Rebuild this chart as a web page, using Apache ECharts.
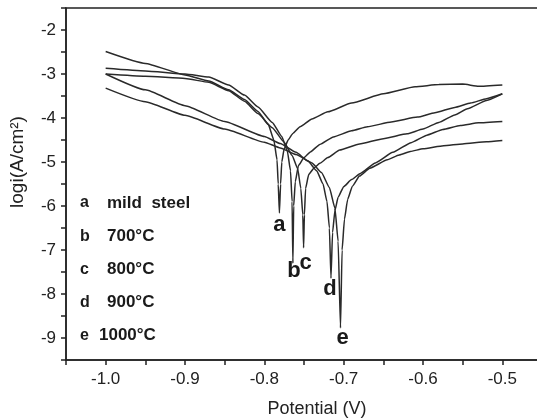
<!DOCTYPE html>
<html>
<head>
<meta charset="utf-8">
<script src="https://cdn.jsdelivr.net/npm/echarts@6/dist/echarts.min.js"></script>
<style>
  html, body { margin: 0; background: #fff; }
  #chart { width: 537px; height: 420px; }
</style>
</head>
<body>
<div id="chart"></div>
<script>
// polarisation curves, [potential V, log i]
const curveA = [[-1.0,-2.49],[-0.95,-2.76],[-0.9,-3.02],[-0.87,-3.16],[-0.845,-3.36],[-0.825,-3.58],[-0.808,-3.85],[-0.795,-4.15],[-0.788,-4.5],[-0.784,-4.95],[-0.7825,-5.5],[-0.781,-6.16],[-0.7795,-5.5],[-0.778,-5.0],[-0.775,-4.7],[-0.77,-4.5],[-0.764,-4.35],[-0.755,-4.2],[-0.74,-4.02],[-0.72,-3.86],[-0.69,-3.66],[-0.65,-3.45],[-0.61,-3.29],[-0.58,-3.24],[-0.55,-3.23],[-0.53,-3.28],[-0.5,-3.25]]
const curveB = [[-1.0,-2.87],[-0.95,-2.93],[-0.9,-3.0],[-0.87,-3.07],[-0.845,-3.25],[-0.825,-3.48],[-0.808,-3.75],[-0.79,-4.1],[-0.778,-4.42],[-0.771,-4.75],[-0.767,-5.2],[-0.765,-5.9],[-0.764,-7.3],[-0.763,-6.0],[-0.761,-5.45],[-0.757,-5.08],[-0.75,-4.9],[-0.742,-4.77],[-0.73,-4.6],[-0.713,-4.43],[-0.69,-4.29],[-0.67,-4.2],[-0.64,-4.09],[-0.607,-3.98],[-0.585,-3.88],[-0.56,-3.76],[-0.54,-3.66],[-0.52,-3.56],[-0.5,-3.45]]
const curveC = [[-1.0,-3.0],[-0.95,-3.05],[-0.9,-3.1],[-0.87,-3.19],[-0.845,-3.38],[-0.825,-3.62],[-0.808,-3.9],[-0.79,-4.22],[-0.775,-4.55],[-0.765,-4.85],[-0.758,-5.15],[-0.754,-5.6],[-0.7515,-6.2],[-0.7505,-6.95],[-0.7495,-6.2],[-0.748,-5.6],[-0.744,-5.28],[-0.737,-5.13],[-0.73,-5.03],[-0.72,-4.9],[-0.705,-4.73],[-0.68,-4.59],[-0.65,-4.47],[-0.62,-4.36],[-0.6,-4.25],[-0.58,-4.1],[-0.56,-3.93],[-0.544,-3.79],[-0.52,-3.6],[-0.5,-3.45]]
const curveD = [[-1.0,-3.0],[-0.95,-3.36],[-0.9,-3.72],[-0.85,-4.08],[-0.8,-4.42],[-0.78,-4.58],[-0.76,-4.78],[-0.745,-4.98],[-0.734,-5.2],[-0.726,-5.5],[-0.721,-5.9],[-0.718,-6.5],[-0.716,-7.64],[-0.714,-6.6],[-0.711,-6.1],[-0.707,-5.8],[-0.7,-5.56],[-0.69,-5.4],[-0.679,-5.26],[-0.66,-5.02],[-0.638,-4.78],[-0.615,-4.56],[-0.595,-4.39],[-0.575,-4.26],[-0.553,-4.17],[-0.53,-4.11],[-0.5,-4.08]]
const curveE = [[-1.0,-3.32],[-0.95,-3.63],[-0.9,-3.94],[-0.85,-4.25],[-0.8,-4.55],[-0.78,-4.68],[-0.76,-4.83],[-0.74,-5.02],[-0.728,-5.24],[-0.718,-5.58],[-0.711,-6.05],[-0.707,-6.8],[-0.704,-8.77],[-0.702,-7.0],[-0.699,-6.3],[-0.695,-5.85],[-0.689,-5.55],[-0.68,-5.32],[-0.667,-5.14],[-0.645,-4.95],[-0.63,-4.84],[-0.616,-4.76],[-0.6,-4.7],[-0.574,-4.63],[-0.55,-4.59],[-0.52,-4.54],[-0.5,-4.51]]

const curveKeys = ['a', 'b', 'c', 'd', 'e']
const curveNames = ['mild  steel', '700°C', '800°C', '900°C', '1000°C']
// corrosion potential and the bottom of each spike
const ecorr = [-0.781, -0.764, -0.7505, -0.716, -0.704]
const spikeBottom = [-6.16, -7.3, -6.95, -7.64, -8.77]

const curves = [curveA, curveB, curveC, curveD, curveE]
// where the big letter sits relative to the spike tip
const letterOffset = [[0, 12], [1, 8], [2, 15], [-1, 11], [2, 10]]

const FONT = '"Liberation Sans", Arial, sans-serif'

let chart = echarts.init(document.getElementById('chart'))

let series = curves.map((c, i) => ({
  name: curveKeys[i],
  type: 'line',
  data: c,
  symbol: 'none',
  smooth: 0.15,
  smoothMonotone: 'x',
  lineStyle: {color: '#2a2a2a', width: 1.5},
  markPoint: {
    symbol: 'circle',
    symbolSize: 0,
    silent: true,
    data: [{coord: [ecorr[i], spikeBottom[i]]}],
    label: {
      show: true,
      position: 'inside',
      offset: letterOffset[i],
      formatter: curveKeys[i],
      fontFamily: FONT,
      fontSize: 22,
      fontWeight: 'bold',
      color: '#1a1a1a'
    }
  }
}))

// legend block drawn as plain text
let graphic = [{
  type: 'text',
  x: 18, y: 162,
  rotation: Math.PI / 2,
  style: {text: 'logi(A/cm²)', font: '19px ' + FONT, fill: '#222', align: 'center', verticalAlign: 'middle'}
}]
curveKeys.forEach((k, i) => {
  let y = 203 + i * 33.2
  graphic.push({
    type: 'text', x: 80, y: y,
    style: {text: k, font: 'bold 16px ' + FONT, fill: '#1a1a1a', verticalAlign: 'middle'}
  })
  graphic.push({
    type: 'text', x: i === 4 ? 99 : 107, y: y,
    style: {text: curveNames[i], font: 'bold 17px ' + FONT, fill: '#1a1a1a', verticalAlign: 'middle'}
  })
})

let option = {
  animation: false,
  backgroundColor: '#fff',
  // plot runs past the right edge of the picture, so no right border shows
  grid: {
    left: 66, top: 8, width: 476, height: 352,
    outerBoundsMode: 'none',
    show: true, borderColor: '#222', borderWidth: 1.5
  },
  xAxis: {
    type: 'value',
    min: -1.05, max: -0.45, interval: 0.05,
    name: 'Potential (V)',
    nameLocation: 'middle',
    nameGap: 40,
    nameTextStyle: {fontFamily: FONT, fontSize: 18, color: '#222', padding: [0, 0, 0, 26]},
    splitLine: {show: false},
    axisLine: {lineStyle: {color: '#222', width: 1.5}},
    axisTick: {inside: false, length: 5, lineStyle: {color: '#222', width: 1.5}},
    axisLabel: {
      margin: 11,
      fontFamily: FONT, fontSize: 17, color: '#222',
      formatter: v => {
        let t = Math.round(v * 100)
        return t % 10 === 0 ? (t / 100).toFixed(1) : ''
      }
    }
  },
  yAxis: {
    type: 'value',
    min: -9.5, max: -1.5, interval: 0.5,
    splitLine: {show: false},
    axisLine: {lineStyle: {color: '#222', width: 1.5}},
    axisTick: {inside: false, length: 5, lineStyle: {color: '#222', width: 1.5}},
    axisLabel: {
      margin: 10,
      fontFamily: FONT, fontSize: 17, color: '#222',
      formatter: v => {
        let t = Math.round(v * 10)
        return t % 10 === 0 ? String(t / 10) : ''
      }
    }
  },
  graphic: graphic,
  series: series
}

chart.setOption(option)
</script>
</body>
</html>
